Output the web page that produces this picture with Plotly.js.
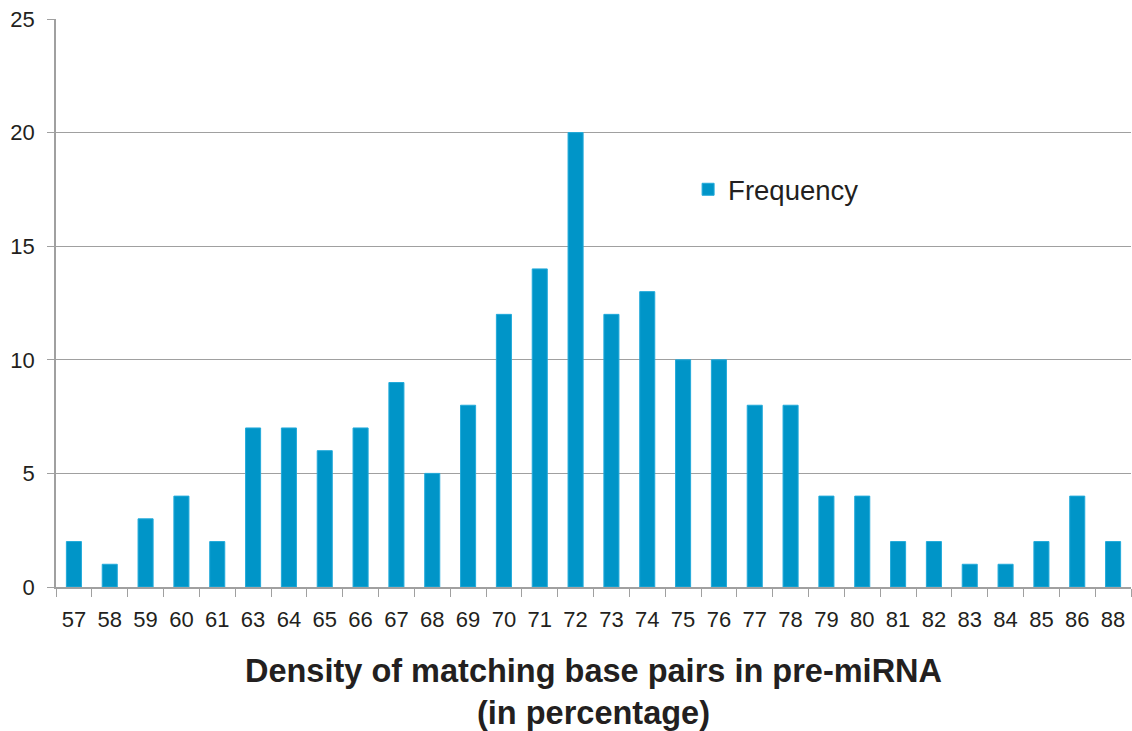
<!DOCTYPE html>
<html><head><meta charset="utf-8">
<script src="https://cdn.plot.ly/plotly-3.0.1.min.js"></script>
<style>html,body{margin:0;padding:0;background:#fff}#c{width:1132px;height:731px}</style>
</head><body><div id="c"></div>
<script>
const categories = ["57","58","59","60","61","63","64","65","66","67","68","69","70","71","72","73","74","75","76","77","78","79","80","81","82","83","84","85","86","88"];
const frequency = [2,1,3,4,2,7,7,6,7,9,5,8,12,14,20,12,13,10,10,8,8,4,4,2,2,1,1,2,4,2];
const seriesName = "Frequency";
const xTitle = "Density of matching base pairs in pre-miRNA<br>(in percentage)";

Plotly.newPlot('c', [{
  type: 'bar', x: categories, y: frequency, name: seriesName,
  marker: {color: '#0095C8', line: {color: '#22AADA', width: 1}},
  showlegend: true
}], {
  width: 1132, height: 731,
  margin: {l: 56, r: 1, t: 19, b: 144},
  paper_bgcolor: '#fff', plot_bgcolor: '#fff',
  bargap: 0.58,
  font: {family: 'Liberation Sans, Arial, sans-serif', color: '#231F20'},
  xaxis: {
    type: 'category', tickson: 'boundaries', ticks: 'outside', ticklen: 8,
    tickcolor: '#A0A0A0', linecolor: '#A0A0A0', linewidth: 1.5, showline: true,
    showgrid: false, tickfont: {size: 22}, ticklabelstandoff: 12,
    title: {text: xTitle, font: {size: 32.5, family: 'Liberation Sans Narrow, Liberation Sans, Arial', weight: 'bold'}, standoff: 28}
  },
  yaxis: {
    range: [0, 25], dtick: 5, ticks: 'outside', ticklen: 7, tickcolor: '#A0A0A0',
    showline: true, linecolor: '#A0A0A0', linewidth: 1.5,
    gridcolor: '#A0A0A0', gridwidth: 1, zeroline: false,
    tickfont: {size: 22}, ticklabelstandoff: 8
  },
  legend: {x: 0.588, y: 0.70, xanchor: 'left', yanchor: 'middle', font: {size: 27.5}, bgcolor: 'rgba(0,0,0,0)', itemwidth: 30}
}, {displayModeBar: false});
</script></body></html>
